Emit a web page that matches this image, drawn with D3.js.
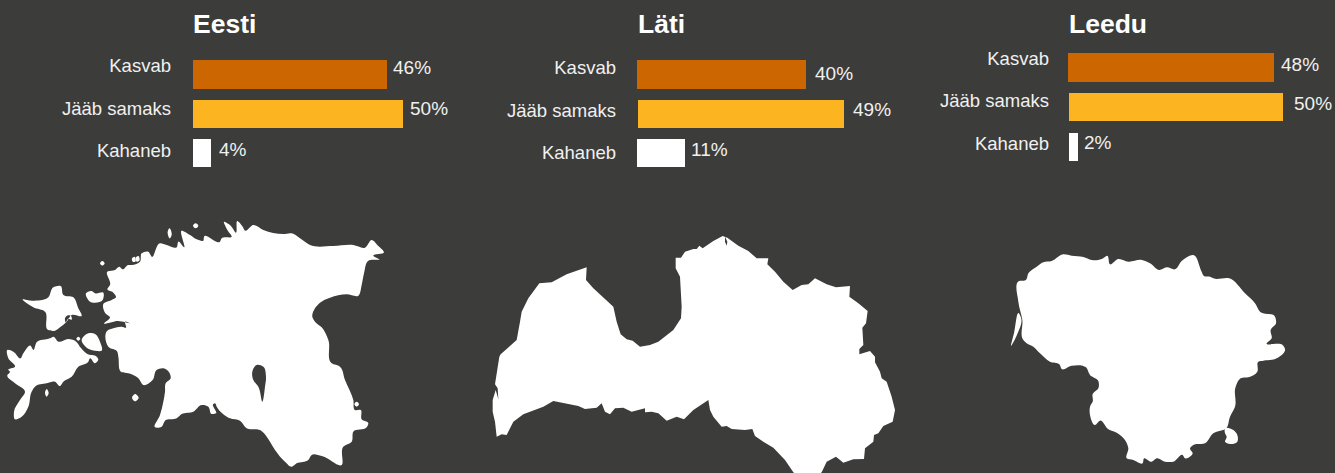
<!DOCTYPE html>
<html><head><meta charset="utf-8">
<script src="https://cdn.jsdelivr.net/npm/d3@7"></script>
<style>html,body{margin:0;padding:0;background:#3c3c3a;overflow:hidden}svg{display:block}</style>
</head><body><svg id="c" width="1335" height="473"></svg>
<script>
const categories = ["Kasvab", "Jääb samaks", "Kahaneb"];
const countries = ["Eesti", "Läti", "Leedu"];
const eestiValues = [46, 50, 4];
const latiValues = [40, 49, 11];
const leeduValues = [48, 50, 2];
const barColors = ["#cc6600", "#fcb421", "#ffffff"];

// Outlines (map grid units, three per pixel)
const estoniaMainland = [[322,185],[345,180],[358,170],[368,178],[385,165],[395,165],[420,155],[425,130],[445,125],[455,140],[480,100],[500,105],[530,112],[535,95],[552,112],[545,62],[570,75],[590,88],[610,92],[612,80],[660,95],[665,85],[695,80],[682,60],[672,35],[690,45],[708,68],[712,33],[728,50],[735,62],[760,45],[790,60],[850,72],[875,70],[900,85],[930,105],[1000,108],[1060,105],[1095,113],[1115,90],[1135,108],[1152,127],[1120,137],[1138,148],[1105,152],[1092,190],[1085,225],[1075,257],[1040,253],[990,263],[960,278],[945,295],[937,320],[945,335],[965,352],[985,390],[995,460],[1020,470],[1035,510],[1060,570],[1065,600],[1082,600],[1085,628],[1105,640],[1100,652],[1060,665],[1055,695],[1030,710],[1025,765],[965,738],[935,735],[925,750],[890,760],[875,770],[855,755],[825,720],[810,695],[780,660],[740,655],[720,632],[690,625],[650,590],[645,580],[640,582],[648,610],[635,612],[625,590],[605,585],[580,605],[545,612],[530,625],[495,632],[485,650],[465,652],[480,615],[490,575],[495,545],[497,520],[512,505],[508,488],[490,475],[470,480],[458,510],[430,525],[415,505],[385,490],[365,487],[355,440],[352,425],[325,410],[322,362],[340,355],[365,350],[378,353],[375,335],[390,340],[355,333],[312,340],[330,322],[315,308],[310,282],[335,270],[348,262],[340,248],[322,238],[330,225]];
const estoniaLake = [[770,465],[790,470],[798,500],[795,530],[787,575],[775,530],[760,510],[757,485]];
const hiiumaa = [[68,268],[95,272],[145,262],[160,232],[182,228],[190,255],[220,262],[235,295],[245,318],[215,315],[200,335],[180,352],[165,362],[145,360],[135,305],[100,292]];
const hiiumaaBay = [[213,318],[215,329],[205,326],[197,337],[195,325],[205,316]];
const saaremaa = [[22,420],[40,425],[62,445],[70,430],[92,407],[100,420],[110,397],[150,385],[160,380],[175,395],[205,387],[225,392],[243,414],[262,432],[290,440],[295,448],[285,460],[270,445],[265,455],[235,470],[215,500],[190,515],[180,528],[165,515],[140,520],[105,530],[95,545],[85,590],[65,620],[45,628],[42,605],[60,570],[75,545],[45,520],[22,495],[30,485],[25,480],[45,470],[25,445]];
const muhu = [[245,392],[265,370],[285,372],[300,395],[305,422],[285,422],[268,418],[252,405]];
const vormsi = [[258,250],[275,243],[285,250],[310,248],[308,270],[270,275]];
const ruhnu = [[405,552],[416,563],[405,574],[396,563]];
const naissaar = [[503,65],[508,55],[515,75],[510,85]];
const prangli = [[587,40],[595,47],[587,55],[579,47]];
const osmussaar = [[307,153],[314,160],[307,167],[300,160]];
const pakri = [[396,145],[404,140],[406,155],[398,155]];
const pakri2 = [[408,142],[415,138],[418,152],[410,155]];
const kihnu = [[140,537],[146,550],[140,560],[135,548]];
const abruka = [[235,380],[241,386],[235,392],[229,386]];
const piirissaar = [[1070,575],[1077,582],[1070,590],[1063,582]];
const latvia = [[320,127],[318,165],[340,190],[400,245],[410,290],[422,328],[440,343],[458,347],[480,365],[510,360],[535,350],[580,315],[603,280],[605,245],[600,155],[587,130],[587,98],[603,98],[615,80],[640,72],[650,72],[658,62],[668,70],[700,48],[728,33],[742,38],[775,62],[805,78],[830,100],[865,100],[862,118],[885,140],[910,170],[938,195],[965,180],[985,178],[1005,160],[1040,178],[1068,187],[1110,183],[1108,215],[1135,235],[1163,258],[1158,295],[1147,308],[1150,360],[1138,372],[1138,388],[1170,378],[1185,395],[1185,412],[1200,440],[1205,460],[1220,470],[1235,515],[1245,555],[1238,590],[1210,603],[1195,625],[1182,630],[1180,650],[1155,670],[1152,702],[1120,703],[1090,713],[1068,695],[1040,710],[1025,742],[1000,760],[960,760],[940,742],[915,705],[880,668],[850,650],[825,633],[817,612],[795,615],[755,612],[740,603],[725,605],[700,575],[690,555],[685,525],[640,555],[612,583],[590,575],[560,587],[535,565],[515,560],[495,562],[495,550],[455,560],[430,548],[405,550],[390,568],[375,560],[365,535],[350,548],[315,552],[295,543],[220,528],[190,545],[130,568],[100,590],[80,630],[65,628],[50,635],[45,590],[38,560],[38,525],[47,495],[55,522],[53,490],[45,478],[58,395],[62,388],[110,345],[120,290],[125,260],[145,220],[178,175],[215,172],[260,148]];
const latviaPond = [[735,35],[742,50],[740,62],[735,50]];
const lithuania = [[57,108],[78,105],[85,85],[110,65],[130,52],[155,48],[190,28],[215,32],[250,36],[275,45],[305,42],[322,32],[330,58],[355,42],[385,50],[425,45],[450,55],[478,75],[500,67],[525,73],[545,48],[580,30],[605,80],[612,93],[630,95],[640,100],[688,100],[735,145],[765,175],[780,200],[825,215],[828,235],[812,255],[815,280],[800,295],[850,302],[855,312],[830,340],[790,347],[775,350],[772,380],[745,397],[722,400],[707,425],[705,485],[690,515],[680,548],[640,565],[615,595],[580,600],[570,610],[578,625],[555,640],[548,630],[520,650],[495,650],[470,640],[455,650],[432,640],[428,655],[400,645],[380,640],[385,610],[375,585],[350,563],[325,553],[300,527],[285,540],[270,510],[272,480],[278,470],[278,447],[295,430],[295,408],[270,390],[258,367],[215,362],[185,372],[178,358],[150,350],[120,325],[100,305],[80,295],[70,285],[67,225],[55,170]];
const curonianSpit = [[57,205],[64,222],[53,265],[33,303],[42,265]];
const lithuaniaLoop = [[675,550],[700,555],[712,570],[712,590],[690,597],[675,590],[680,575],[675,565]];

const panels = [
  {values: eestiValues, titleX: 193, titleY: 32.5, x0: [193,193,193], k: [1,210.4], top: [60,100,139], h: [29,28,28],
   labelX: 171, labelY: [72,115,157], valX: [393,410,219], valY: [74,114.5,156],
   groups: [[estoniaMainland, estoniaLake], [hiiumaa, hiiumaaBay], [saaremaa], [muhu], [vormsi], [ruhnu], [naissaar], [prangli], [osmussaar], [pakri], [pakri2], [kihnu], [abruka], [piirissaar]], ox: 0, oy: 210, curve: 1},
  {values: latiValues, titleX: 638, titleY: 33, x0: [637,638,637], k: [2,210.4], top: [60,100,139], h: [29,28,28],
   labelX: 616, labelY: [74,116.5,159], valX: [815,853,691], valY: [79.5,115.5,155.5],
   groups: [[latvia, latviaPond]], ox: 480, oy: 225, curve: 0},
  {values: leeduValues, titleX: 1069, titleY: 33, x0: [1068,1069,1069], k: [0.5,214.2], top: [53,93,133], h: [29,28,28],
   labelX: 1049, labelY: [65,107,150], valX: [1281,1294,1084], valY: [71,109.5,149],
   groups: [[lithuania], [curonianSpit], [lithuaniaLoop]], ox: 1000, oy: 245, curve: 1}
];

const svg = d3.select("#c");
const font = "'Liberation Sans', Arial, sans-serif";
svg.append("rect").attr("width",1335).attr("height",473).attr("fill","#3c3c3a");

panels.forEach((p, pi) => {
  const mx = d3.scaleLinear().domain([0,3]).range([p.ox, p.ox+1]);
  const my = d3.scaleLinear().domain([0,3]).range([p.oy, p.oy+1]);
  const line = d3.line().x(d => mx(d[0])).y(d => my(d[1]))
    .curve(p.curve ? d3.curveCatmullRomClosed.alpha(1) : d3.curveLinearClosed);
  svg.append("g").selectAll("path").data(p.groups).join("path")
    .attr("d", rings => rings.map(r => line(r)).join(""))
    .attr("fill","#fff").attr("fill-rule","evenodd");

  const x = d3.scaleLinear().domain([0,50]).range(p.k);
  const g = svg.append("g");
  g.append("text").text(countries[pi]).attr("x",p.titleX).attr("y",p.titleY)
    .attr("font-family",font).attr("font-weight",700).attr("font-size",26.5).attr("fill","#fff");
  g.selectAll("rect").data(p.values).join("rect")
    .attr("x",(d,i)=>p.x0[i]).attr("y",(d,i)=>p.top[i])
    .attr("width",d=>Math.round(x(d))).attr("height",(d,i)=>p.h[i])
    .attr("fill",(d,i)=>barColors[i]);
  g.selectAll("text.l").data(categories).join("text").attr("class","l").text(d=>d)
    .attr("x",p.labelX).attr("y",(d,i)=>p.labelY[i]).attr("text-anchor","end")
    .attr("font-family",font).attr("font-size",18.5).attr("fill","#f0f0f0");
  g.selectAll("text.v").data(p.values).join("text").attr("class","v").text(d=>d+"%")
    .attr("x",(d,i)=>p.valX[i]).attr("y",(d,i)=>p.valY[i])
    .attr("font-family",font).attr("font-size",19).attr("fill","#f0f0f0");
});
</script></body></html>
